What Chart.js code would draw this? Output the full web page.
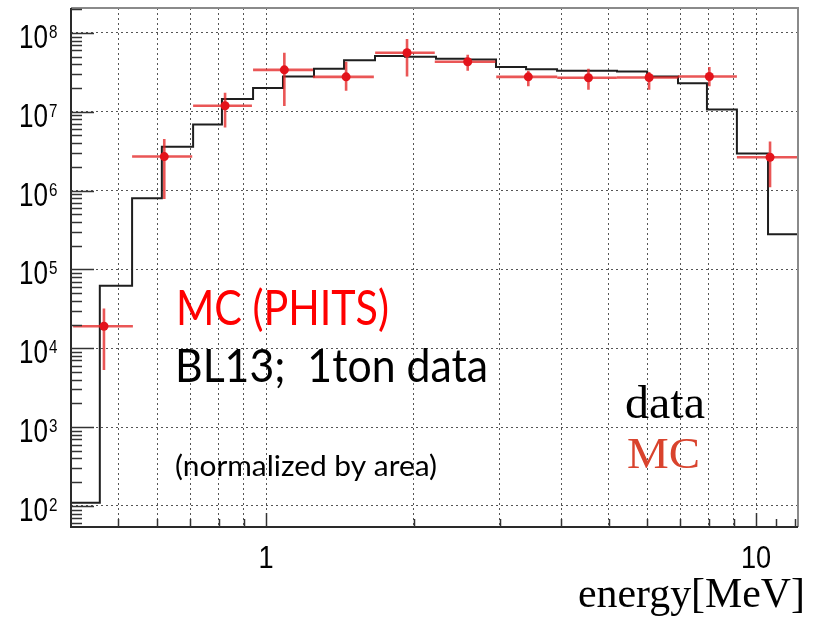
<!DOCTYPE html>
<html><head><meta charset="utf-8">
<script src="https://cdn.jsdelivr.net/npm/chart.js@4"></script>
<style>html,body{margin:0;padding:0;background:#fff}#wrap{width:815px;height:622px;position:relative}</style>
</head><body><div id="wrap"><canvas id="c" width="815" height="622"></canvas></div>
<script>
// ---- data ----
const binEdges = [0.400,0.458,0.533,0.613,0.710,0.813,0.941,1.083,1.253,1.443,1.669,1.922,2.223,2.560,2.947,3.394,3.926,4.540,5.204,5.995,6.93,7.94,9.14,10.58,12.18];
const dataCounts = [110,6.2e4,8.0e5,3.6e6,6.9e6,1.45e7,2.0e7,2.8e7,3.5e7,4.5e7,5.1e7,5.0e7,4.7e7,4.6e7,3.7e7,3.45e7,3.3e7,3.3e7,3.25e7,2.8e7,2.3e7,1.07e7,2.95e6,2.8e5];

const mcEnergy = [0.467,0.620,0.825,1.09,1.457,1.94,2.58,3.43,4.55,6.05,8.03,10.68];
const mcXLow   = [0.404,0.533,0.710,0.941,1.247,1.67,2.21,2.95,3.93,5.2,6.93,9.14];
const mcXHigh  = [0.535,0.707,0.936,1.247,1.66,2.21,2.94,3.93,5.2,6.93,9.14,12.18];
const mcValue  = [1.9e4,2.7e6,1.19e7,3.4e7,2.77e7,5.6e7,4.3e7,2.77e7,2.7e7,2.72e7,2.8e7,2.65e6];
const mcErrHigh= [3.2e4,4.5e6,1.74e7,5.6e7,4.3e7,8.4e7,5.3e7,3.3e7,3.5e7,3.2e7,3.7e7,4.2e6];
const mcErrLow = [5.3e3,7.8e5,6.3e6,1.18e7,1.84e7,2.8e7,3.3e7,2.1e7,1.9e7,1.9e7,2.1e7,1.1e6];

const yTickValues = [1e2,1e3,1e4,1e5,1e6,1e7,1e8];
const yTickExponents = ["2","3","4","5","6","7","8"];
const xTickValues = [1,10];
const xTickLabels = ["1","10"];
const xGridValues = [0.5,0.6,0.7,0.8,0.9,1,2,3,4,5,6,7,8,9,10];
const xMinorTicks = [0.5,0.6,0.7,0.8,0.9,2,3,4,5,6,7,8,9,11,12];

const histPoints = binEdges.map((e,i)=>({x:e, y:dataCounts[Math.min(i,dataCounts.length-1)]}));
const mcPoints = mcEnergy.map((e,i)=>({x:e, y:mcValue[i]}));

function drawScaled(ctx, str, x, y, font, sx, align, color){
  ctx.save();
  ctx.font = font; ctx.fillStyle = color||'#000'; ctx.textBaseline='alphabetic'; ctx.textAlign='left';
  const w = ctx.measureText(str).width*sx;
  const x0 = align==='right' ? x-w : (align==='center' ? x-w/2 : x);
  ctx.translate(x0,y); ctx.scale(sx,1); ctx.fillText(str,0,0);
  ctx.restore();
}
function drawFit(ctx, str, x, y, font, width, color){
  ctx.save(); ctx.font = font;
  const w = ctx.measureText(str).width;
  ctx.restore();
  drawScaled(ctx, str, x, y, font, width/w, 'left', color);
}

const decor = {
  id:'decor',
  beforeDatasetDraw(chart, args){
    if (args.index !== 1) return;
    const {ctx, scales:{x,y}} = chart;
    ctx.save();
    ctx.strokeStyle = 'rgba(228,38,38,0.78)';
    ctx.lineWidth = 2.6;
    ctx.beginPath();
    ctx.rect(chart.chartArea.left, chart.chartArea.top, chart.chartArea.width, chart.chartArea.height);
    ctx.clip();
    for (let i=0;i<mcEnergy.length;i++){
      const px = x.getPixelForValue(mcEnergy[i]);
      const py = y.getPixelForValue(mcValue[i]);
      ctx.beginPath();
      ctx.moveTo(x.getPixelForValue(mcXLow[i]), py);
      ctx.lineTo(x.getPixelForValue(mcXHigh[i]), py);
      ctx.moveTo(px, y.getPixelForValue(mcErrHigh[i]));
      ctx.lineTo(px, y.getPixelForValue(mcErrLow[i]));
      ctx.stroke();
    }
    ctx.restore();
  },
  afterDatasetsDraw(chart){
    const {ctx, chartArea:a, scales:{x,y}} = chart;
    ctx.save();
    // frame
    ctx.lineWidth = 2;
    ctx.strokeStyle = '#8a8a8a';
    ctx.beginPath(); ctx.moveTo(a.left, a.top); ctx.lineTo(a.right, a.top); ctx.lineTo(a.right, a.bottom); ctx.stroke();
    ctx.strokeStyle = '#2a2a2a';
    ctx.beginPath(); ctx.moveTo(a.left, a.top); ctx.lineTo(a.left, a.bottom); ctx.lineTo(a.right, a.bottom); ctx.stroke();
    // y inner ticks
    ctx.lineWidth = 1.5;
    ctx.strokeStyle = '#333';
    for (let d=1; d<=8; d++){
      for (let k=1;k<=9;k++){
        const v = k*Math.pow(10,d);
        if (v < y.min || v > y.max) continue;
        const py = Math.round(y.getPixelForValue(v))+0.5;
        const len = k===1 ? 23 : 11;
        ctx.beginPath(); ctx.moveTo(a.left, py); ctx.lineTo(a.left+len, py); ctx.stroke();
      }
    }
    // x inner ticks
    xMinorTicks.forEach(v=>{
      if (v < x.min || v > x.max) return;
      const px = Math.round(x.getPixelForValue(v))+0.5;
      ctx.beginPath(); ctx.moveTo(px, a.bottom); ctx.lineTo(px, a.bottom-8); ctx.stroke();
    });
    xTickValues.forEach(v=>{
      const px = Math.round(x.getPixelForValue(v))+0.5;
      ctx.beginPath(); ctx.moveTo(px, a.bottom); ctx.lineTo(px, a.bottom-14); ctx.stroke();
    });
    // y tick labels 10^n
    yTickValues.forEach((v,i)=>{
      const py = y.getPixelForValue(v);
      drawScaled(ctx, "10", 48, py+15, '33px "Liberation Sans", Arial, sans-serif', 0.79, 'right', '#000');
      drawScaled(ctx, yTickExponents[i], 49, py+5, '19px "Liberation Sans", Arial, sans-serif', 0.8, 'left', '#000');
    });
    // x tick labels
    xTickValues.forEach((v,i)=>{
      const px = x.getPixelForValue(v);
      drawScaled(ctx, xTickLabels[i], px, 568, '32px "Liberation Sans", Arial, sans-serif', 0.85, 'center', '#000');
    });
    // axis title
    drawFit(ctx, "energy[MeV]", 578, 607, '42px "Liberation Serif", "Times New Roman", serif', 227, '#000');
    // legend
    drawFit(ctx, "data", 625, 418, '46px "Liberation Serif", "Times New Roman", serif', 80, '#000');
    drawFit(ctx, "MC", 627, 468, '44px "Liberation Serif", "Times New Roman", serif', 73, '#d9432d');
    // annotations
    drawFit(ctx, "MC (PHITS)", 176, 325, '48px Lato, "Open Sans", sans-serif', 213, '#ff0000');
    drawFit(ctx, "BL13;  1ton data", 175, 382, '46px Lato, "Open Sans", sans-serif', 313, '#000');
    drawFit(ctx, "(normalized by area)", 175, 476, '29px Lato, "Open Sans", sans-serif', 262, '#000');
    ctx.restore();
  }
};

const chart = new Chart(document.getElementById('c'), {
  type:'scatter',
  data:{datasets:[
    {type:'line', label:'data', data:histPoints, stepped:true, borderColor:'#1e1e1e', borderWidth:2, pointRadius:0, fill:false, order:2},
    {type:'scatter', label:'MC', data:mcPoints, backgroundColor:'#e3131b', borderColor:'#e3131b', pointRadius:4.5, borderWidth:0, order:1}
  ]},
  options:{
    responsive:false, animation:false,
    layout:{padding:{left:71, top:8, right:17, bottom:95}},
    plugins:{legend:{display:false}, tooltip:{enabled:false}},
    scales:{
      x:{type:'logarithmic', min:0.4, max:12.18,
        ticks:{display:false},
        afterBuildTicks:s=>{ s.ticks = xGridValues.map(v=>({value:v})); },
        grid:{drawTicks:false, color:'#555', lineWidth:1},
        border:{display:false, dash:[2,3]}},
      y:{type:'logarithmic', min:54, max:2.07e8,
        ticks:{display:false},
        afterBuildTicks:s=>{ s.ticks = yTickValues.map(v=>({value:v})); },
        grid:{drawTicks:false, color:'#555', lineWidth:1},
        border:{display:false, dash:[2,3]}}
    }
  },
  plugins:[decor]
});
</script></body></html>
